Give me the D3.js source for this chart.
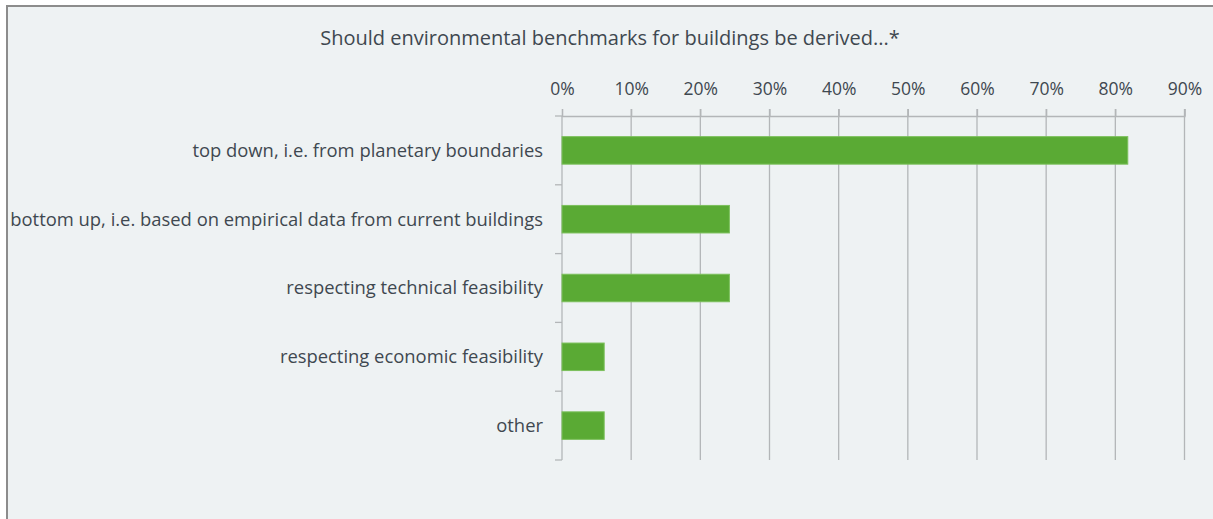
<!DOCTYPE html>
<html>
<head>
<meta charset="utf-8">
<script src="https://cdn.jsdelivr.net/npm/d3@7"></script>
<style>
  body { margin: 0; background: #fff; }
  text { font-family: "Open Sans", sans-serif; fill: #3f4850; }
</style>
</head>
<body>
<svg></svg>
<script>
const categories = [
    "top down, i.e. from planetary boundaries",
    "bottom up, i.e. based on empirical data from current buildings",
    "respecting technical feasibility",
    "respecting economic feasibility",
    "other"
];
const shares = [81.8, 24.2, 24.2, 6.1, 6.1];
const tickValues = [0, 10, 20, 30, 40, 50, 60, 70, 80, 90];
const title = "Should environmental benchmarks for buildings be derived...*";

const width = 1213;
const height = 519;

const svg = d3.select("svg")
    .attr("width", width)
    .attr("height", height);

// chart area panel
svg.append("rect")
    .attr("x", 7)
    .attr("y", 6)
    .attr("width", width + 10)
    .attr("height", height + 10)
    .attr("fill", "#eef2f3")
    .attr("stroke", "#8c8c8c")
    .attr("stroke-width", 2);

const xScale = d3.scaleLinear()
    .domain([0, 90])
    .range([562, 1184.5]);

const yScale = d3.scaleBand()
    .domain(categories)
    .range([116, 460])
    .paddingInner(0.6)
    .paddingOuter(0.3);

const grid = svg.append("g");

// vertical gridlines
grid.selectAll("line.grid")
    .data(tickValues.slice(1))
    .enter()
    .append("line")
    .attr("class", "grid")
    .attr("x1", d => xScale(d))
    .attr("x2", d => xScale(d))
    .attr("y1", 109)
    .attr("y2", 460)
    .attr("stroke", "#b3b6b8")
    .attr("stroke-width", 1.3);

// top axis
const xAxis = d3.axisTop(xScale)
    .tickValues(tickValues)
    .tickFormat(d => d + "%")
    .tickSize(7)
    .tickPadding(14);

const gx = svg.append("g")
    .attr("transform", "translate(0,116)")
    .call(xAxis);

gx.select(".domain").attr("stroke", "#b3b6b8").attr("stroke-width", 1.3);
gx.selectAll(".tick line").attr("stroke", "#b3b6b8").attr("stroke-width", 1.3);
gx.selectAll("text").style("font-size", "17.5px").attr("fill", "#3f4850");

// left axis: ticks at band boundaries
const boundaries = d3.range(categories.length + 1).map(i => 116 + i * yScale.step());

svg.append("line")
    .attr("x1", 562).attr("x2", 562)
    .attr("y1", 116).attr("y2", 460)
    .attr("stroke", "#b3b6b8")
    .attr("stroke-width", 1.3);

svg.selectAll("line.ytick")
    .data(boundaries)
    .enter()
    .append("line")
    .attr("class", "ytick")
    .attr("x1", 555).attr("x2", 562)
    .attr("y1", d => d).attr("y2", d => d)
    .attr("stroke", "#b3b6b8")
    .attr("stroke-width", 1.3);

svg.selectAll("text.cat")
    .data(categories)
    .enter()
    .append("text")
    .attr("class", "cat")
    .attr("x", 543)
    .attr("y", d => yScale(d) + yScale.bandwidth() / 2)
    .attr("dy", "0.35em")
    .attr("text-anchor", "end")
    .style("font-size", "18.4px")
    .text(d => d);

// bars
svg.selectAll("rect.bar")
    .data(shares)
    .enter()
    .append("rect")
    .attr("class", "bar")
    .attr("x", xScale(0))
    .attr("y", (d, i) => yScale(categories[i]))
    .attr("width", d => xScale(d) - xScale(0))
    .attr("height", yScale.bandwidth())
    .attr("fill", "#5aaa34")
    .attr("stroke", "#7cc05c")
    .attr("stroke-width", 1);

svg.append("text")
    .attr("x", 610)
    .attr("y", 45)
    .attr("text-anchor", "middle")
    .style("font-size", "20px")
    .text(title);
</script>
</body>
</html>
